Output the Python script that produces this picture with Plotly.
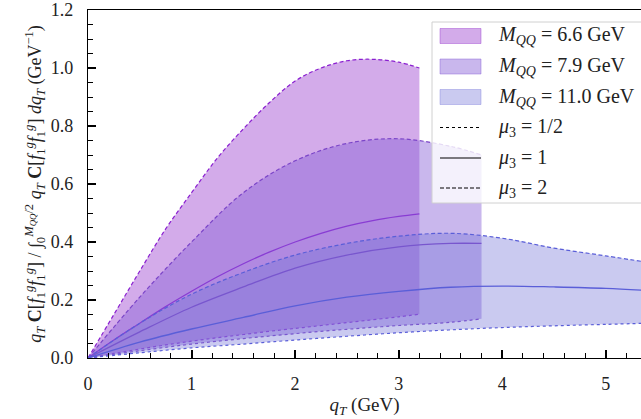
import plotly.graph_objects as go

# ---- data ----
# M_QQ = 6.6 GeV band
x66 = [0, 0.25, 0.5, 0.75, 1.0, 1.25, 1.5, 1.75, 2.0, 2.25, 2.5, 2.75, 3.0, 3.2]
up66 = [0, 0.15, 0.30, 0.445, 0.57, 0.69, 0.79, 0.88, 0.955, 1.0, 1.025, 1.03, 1.02, 1.0]
mid66 = [0, 0.062, 0.12, 0.177, 0.23, 0.28, 0.325, 0.365, 0.40, 0.43, 0.455, 0.474, 0.488, 0.497]
lo66 = [0, 0.016, 0.031, 0.045, 0.058, 0.070, 0.081, 0.092, 0.102, 0.112, 0.122, 0.132, 0.142, 0.151]

# M_QQ = 7.9 GeV band
x79 = [0, 0.5, 1.0, 1.5, 2.0, 2.5, 3.0, 3.5, 3.8]
up79 = [0, 0.21, 0.40, 0.57, 0.68, 0.74, 0.756, 0.73, 0.70]
mid79 = [0, 0.09, 0.175, 0.245, 0.31, 0.355, 0.383, 0.395, 0.395]
lo79 = [0, 0.025, 0.048, 0.067, 0.084, 0.099, 0.112, 0.123, 0.135]

# M_QQ = 11.0 GeV band
x110 = [0, 0.5, 1.0, 1.5, 2.0, 2.5, 3.0, 3.5, 4.0, 4.5, 5.0, 5.5]
up110 = [0, 0.12, 0.22, 0.295, 0.355, 0.395, 0.42, 0.43, 0.413, 0.379, 0.352, 0.325]
mid110 = [0, 0.055, 0.10, 0.14, 0.18, 0.21, 0.23, 0.244, 0.248, 0.245, 0.24, 0.231]
lo110 = [0, 0.018, 0.035, 0.048, 0.062, 0.075, 0.087, 0.097, 0.105, 0.111, 0.116, 0.121]

band_labels = ["<i>M</i><sub><i>QQ</i></sub> = 6.6 GeV",
               "<i>M</i><sub><i>QQ</i></sub> = 7.9 GeV",
               "<i>M</i><sub><i>QQ</i></sub> = 11.0 GeV"]
mu_labels = ["<i>μ</i><sub>3</sub> = 1/2", "<i>μ</i><sub>3</sub> = 1", "<i>μ</i><sub>3</sub> = 2"]

x_ticks = [0, 1, 2, 3, 4, 5]
y_ticks = [0.0, 0.2, 0.4, 0.6, 0.8, 1.0, 1.2]

# ---- styling ----
line_cols = ["#8a1fd0", "#7b45c8", "#5a5ed8"]
fill_cols = ["rgba(150,55,205,0.42)", "rgba(135,95,215,0.45)", "rgba(115,115,215,0.38)"]
FONT = "Liberation Serif"

fig = go.Figure()
bands = [(x66, lo66, mid66, up66), (x79, lo79, mid79, up79), (x110, lo110, mid110, up110)]
for i, (xs, lo, mid, up) in enumerate(bands):
    fig.add_trace(go.Scatter(x=xs, y=lo, mode="lines", showlegend=False,
                             line=dict(color=line_cols[i], width=1.2, dash="dot", shape="spline")))
    fig.add_trace(go.Scatter(x=xs, y=up, mode="lines", showlegend=False, fill="tonexty",
                             fillcolor=fill_cols[i],
                             line=dict(color=line_cols[i], width=1.2, dash="4px,2.5px", shape="spline")))
    fig.add_trace(go.Scatter(x=xs, y=mid, mode="lines", showlegend=False,
                             line=dict(color=line_cols[i], width=1.3, shape="spline")))

# ---- custom legend (box, patches, line samples, labels) ----
L, R, T, B = 88, 641, 10, 358
def px(xp):
    return (xp - L) / (R - L)
def py(yp):
    return (B - yp) / (B - T)

x0, x1, y0, y1 = px(432), px(650), py(22), py(203)
fig.add_shape(type="rect", xref="paper", yref="paper", x0=x0, x1=x1, y0=y1, y1=y0,
              fillcolor="rgba(255,255,255,0.8)", line=dict(color="#d0d0d0", width=1), layer="above")
rows = [36, 66.5, 97, 127.5, 158, 188]
for i in range(3):
    yc = rows[i]
    fig.add_shape(type="rect", xref="paper", yref="paper", x0=px(440), x1=px(481),
                  y0=py(yc + 7.5), y1=py(yc - 7.5), fillcolor=fill_cols[i],
                  line=dict(color=fill_cols[i], width=1), layer="above")
    fig.add_annotation(xref="paper", yref="paper", x=px(496), y=py(yc), text=band_labels[i],
                       showarrow=False, xanchor="left", yanchor="middle",
                       font=dict(family=FONT, size=20, color="#222"))
for j, d in enumerate(["dot", "solid", "4px,2px"]):
    yc = rows[3 + j]
    fig.add_shape(type="line", xref="paper", yref="paper", x0=px(440), x1=px(481),
                  y0=py(yc), y1=py(yc), line=dict(color="black", width=1.2, dash=d), layer="above")
    fig.add_annotation(xref="paper", yref="paper", x=px(496), y=py(yc), text=mu_labels[j],
                       showarrow=False, xanchor="left", yanchor="middle",
                       font=dict(family=FONT, size=20, color="#222"))

ytitle = ("<i>q<sub>T</sub></i> <b>C</b>[<i>f</i><sub>1</sub><sup><i>g</i></sup><i>f</i><sub>1</sub><sup><i>g</i></sup>] / "
          "∫<sub>0</sub><sup><i>M<sub>QQ</sub></i>/2</sup> <i>q<sub>T</sub></i> <b>C</b>[<i>f</i><sub>1</sub><sup><i>g</i></sup>"
          "<i>f</i><sub>1</sub><sup><i>g</i></sup>] <i>dq<sub>T</sub></i> (GeV<sup>−1</sup>)")

fig.update_layout(
    width=641, height=419,
    margin=dict(l=L, r=0, t=T, b=419 - B),
    paper_bgcolor="white", plot_bgcolor="white",
    font=dict(family=FONT, size=18, color="#222"),
    showlegend=False,
    xaxis=dict(range=[0, 5.34], tickvals=x_ticks, ticktext=[str(v) for v in x_ticks],
               ticks="inside", ticklen=8, tickwidth=1.8, tickcolor="black",
               minor=dict(ticks="inside", ticklen=4.5, tickwidth=1.1, dtick=0.2, tickcolor="black"),
               showline=True, linecolor="black", linewidth=1.2, mirror=True,
               showgrid=False, zeroline=False, ticklabelstandoff=9, automargin=False,
               title=dict(text="<i>q<sub>T</sub></i> (GeV)", standoff=2, font=dict(size=19))),
    yaxis=dict(range=[0, 1.2], tickvals=y_ticks, ticktext=[f"{v:.1f}" for v in y_ticks],
               ticks="inside", ticklen=8, tickwidth=1.8, tickcolor="black",
               minor=dict(ticks="inside", ticklen=4.5, tickwidth=1.1, dtick=0.05, tickcolor="black"),
               showline=True, linecolor="black", linewidth=1.2,
               showgrid=False, zeroline=False, ticklabelstandoff=10, automargin=False,
               title=dict(text=ytitle, standoff=4, font=dict(size=18))),
)

fig.write_html("out.html", config={"displayModeBar": False},
               post_script="document.body.style.margin='0';document.body.style.overflow='hidden';")
